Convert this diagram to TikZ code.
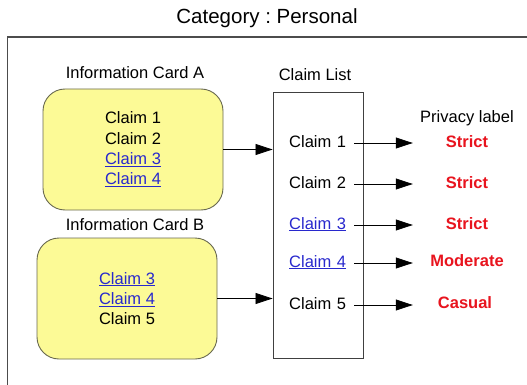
\documentclass[tikz,border=0pt]{standalone}
\usepackage{fontspec}
\setmainfont{Liberation Sans}
\usetikzlibrary{arrows.meta}
\definecolor{cardyellow}{RGB}{252,250,150}
\definecolor{cardline}{RGB}{105,105,80}
\definecolor{linkblue}{RGB}{40,40,205}
\definecolor{labelred}{RGB}{232,20,30}
\newcommand{\lnk}[1]{\textcolor{linkblue}{\underline{#1}}}
\frenchspacing
\begin{document}
\begin{tikzpicture}[x=1pt,y=-1pt,
    every node/.style={font=\fontsize{16.5}{20.3}\selectfont},
    card/.style={draw=cardline,fill=cardyellow,rounded corners=22pt,minimum width=180pt,minimum height=121pt,align=center,line width=0.9pt},
    item/.style={anchor=west,inner sep=0pt,text width=65pt,align=left,text height=12pt,text depth=4pt},
    plabel/.style={text=labelred,font=\fontsize{16.5}{20}\selectfont\bfseries,minimum width=108pt,inner sep=0pt,text height=12pt,text depth=4pt},
    arr/.style={-{Triangle[length=17pt,width=11pt]},line width=0.8pt}]
    \useasboundingbox (0,0) rectangle (527,385);
    \draw[line width=1.1pt,black!70] (7.5,385) -- (7.5,37) -- (527,37);
    \node[font=\fontsize{20.5}{24}\selectfont] (title) at (267,18) {Category : Personal};

    \node (cardAtitle) at (135,73) {Information Card A};
    \node[card] (cardA) at (133,149.5) {Claim 1\\Claim 2\\\lnk{Claim 3}\\\lnk{Claim 4}};
    \node (cardBtitle) at (135,225) {Information Card B};
    \node[card] (cardB) at (127,298.5) {\lnk{Claim 3}\\\lnk{Claim 4}\\Claim 5};

    \node (listtitle) at (315,75) {Claim List};
    \node[draw=black!75,line width=0.9pt,minimum width=90pt,minimum height=266pt,inner sep=0pt] (list) at (318,225) {};
    \node[item] (c1) at (289,143) {Claim 1};
    \node[item] (c2) at (289,184) {Claim 2};
    \node[item] (c3) at (289,225) {\lnk{Claim 3}};
    \node[item] (c4) at (289,263) {\lnk{Claim 4}};
    \node[item] (c5) at (289,305) {Claim 5};

    \node (ptitle) at (467,118) {Privacy label};
    \node[plabel] (p1) at (467,143) {Strict};
    \node[plabel] (p2) at (467,184) {Strict};
    \node[plabel] (p3) at (467,225) {Strict};
    \node[plabel] (p4) at (467,262) {Moderate};
    \node[plabel] (p5) at (465,304) {Casual};

    \draw[arr] (cardA.east) -- (cardA.east -| list.west);
    \draw[arr] (cardB.east) -- (cardB.east -| list.west);
    \draw[arr] (c1.east) -- (c1.east -| p1.west);
    \draw[arr] (c2.east) -- (c2.east -| p2.west);
    \draw[arr] (c3.east) -- (c3.east -| p3.west);
    \draw[arr] (c4.east) -- (c4.east -| p4.west);
    \draw[arr] (c5.east) -- (c5.east -| p4.west);
\end{tikzpicture}
\end{document}
